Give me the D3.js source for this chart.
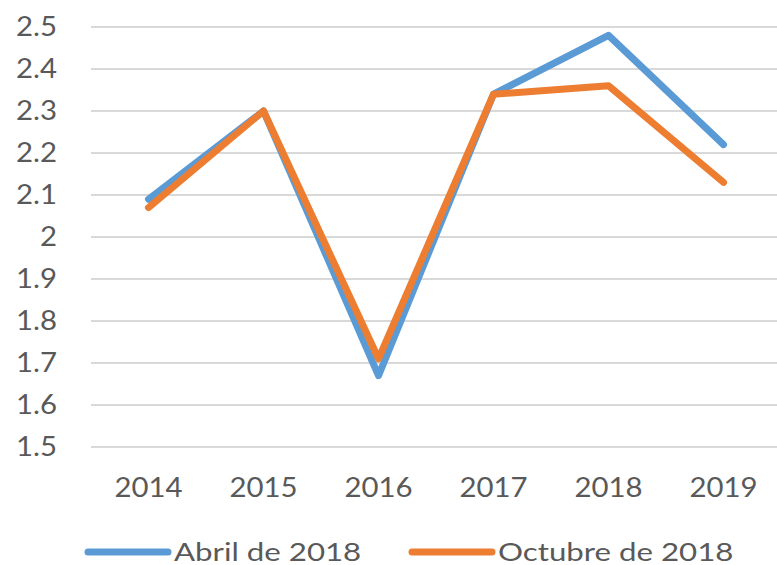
<!DOCTYPE html>
<html>
<head>
<meta charset="utf-8">
<script src="https://cdn.jsdelivr.net/npm/d3@7"></script>
<style>
  body { margin: 0; background: #fff; }
  svg text { font-family: Lato, "Open Sans", sans-serif; fill: #595959; }
</style>
</head>
<body>
<div id="chart"></div>
<script>
// Datos
var years = ["2014", "2015", "2016", "2017", "2018", "2019"];
var abril = [2.09, 2.30, 1.67, 2.34, 2.48, 2.22];
var octubre = [2.07, 2.30, 1.71, 2.34, 2.36, 2.13];
var yTicks = [1.5, 1.6, 1.7, 1.8, 1.9, 2, 2.1, 2.2, 2.3, 2.4, 2.5];
var seriesNames = ["Abril de 2018", "Octubre de 2018"];

var width = 777, height = 565;
var margin = { top: 27, right: -4, bottom: 118, left: 91 };
var stretch = 1.13; // el texto original se ve estirado en horizontal

var svg = d3.select("#chart")
  .append("svg")
  .attr("width", width)
  .attr("height", height);

var x = d3.scaleBand()
  .domain(years)
  .range([margin.left, width - margin.right]);

var y = d3.scaleLinear()
  .domain([1.5, 2.5])
  .range([height - margin.bottom, margin.top]);

// lineas de grilla
svg.append("g")
  .selectAll("line")
  .data(yTicks)
  .join("line")
  .attr("x1", margin.left)
  .attr("x2", width)
  .attr("y1", d => y(d))
  .attr("y2", d => y(d))
  .attr("stroke", "#d9d9d9")
  .attr("stroke-width", 2);

// etiquetas eje y
svg.append("g")
  .selectAll("text")
  .data(yTicks)
  .join("text")
  .attr("transform", d => "translate(57," + y(d) + ") scale(" + stretch + ",1)")
  .attr("dy", "0.36em")
  .attr("text-anchor", "end")
  .attr("font-size", "26px")
  .text(d => d3.format("~g")(d));

// etiquetas eje x
svg.append("g")
  .selectAll("text")
  .data(years)
  .join("text")
  .attr("transform", d => "translate(" + (x(d) + x.bandwidth() / 2) + ",497) scale(" + stretch + ",1)")
  .attr("text-anchor", "middle")
  .attr("font-size", "26px")
  .text(d => d);

var line = d3.line()
  .x((d, i) => x(years[i]) + x.bandwidth() / 2)
  .y(d => y(d));

var colors = ["#5b9bd5", "#ed7d31"];

[abril, octubre].forEach((serie, k) => {
  svg.append("path")
    .datum(serie)
    .attr("d", line)
    .attr("fill", "none")
    .attr("stroke", colors[k])
    .attr("stroke-width", 7)
    .attr("stroke-linecap", "round")
    .attr("stroke-linejoin", "round");
});

// leyenda
var legendX = [88, 412];
seriesNames.forEach((name, k) => {
  var g = svg.append("g").attr("transform", "translate(" + legendX[k] + ",552)");
  g.append("line")
    .attr("x1", 0).attr("x2", 80)
    .attr("stroke", colors[k])
    .attr("stroke-width", 7)
    .attr("stroke-linecap", "round");
  g.append("text")
    .attr("transform", "translate(86,0) scale(1.25,1)")
    .attr("dy", "0.35em")
    .attr("font-size", "25px")
    .text(name);
});
</script>
</body>
</html>
